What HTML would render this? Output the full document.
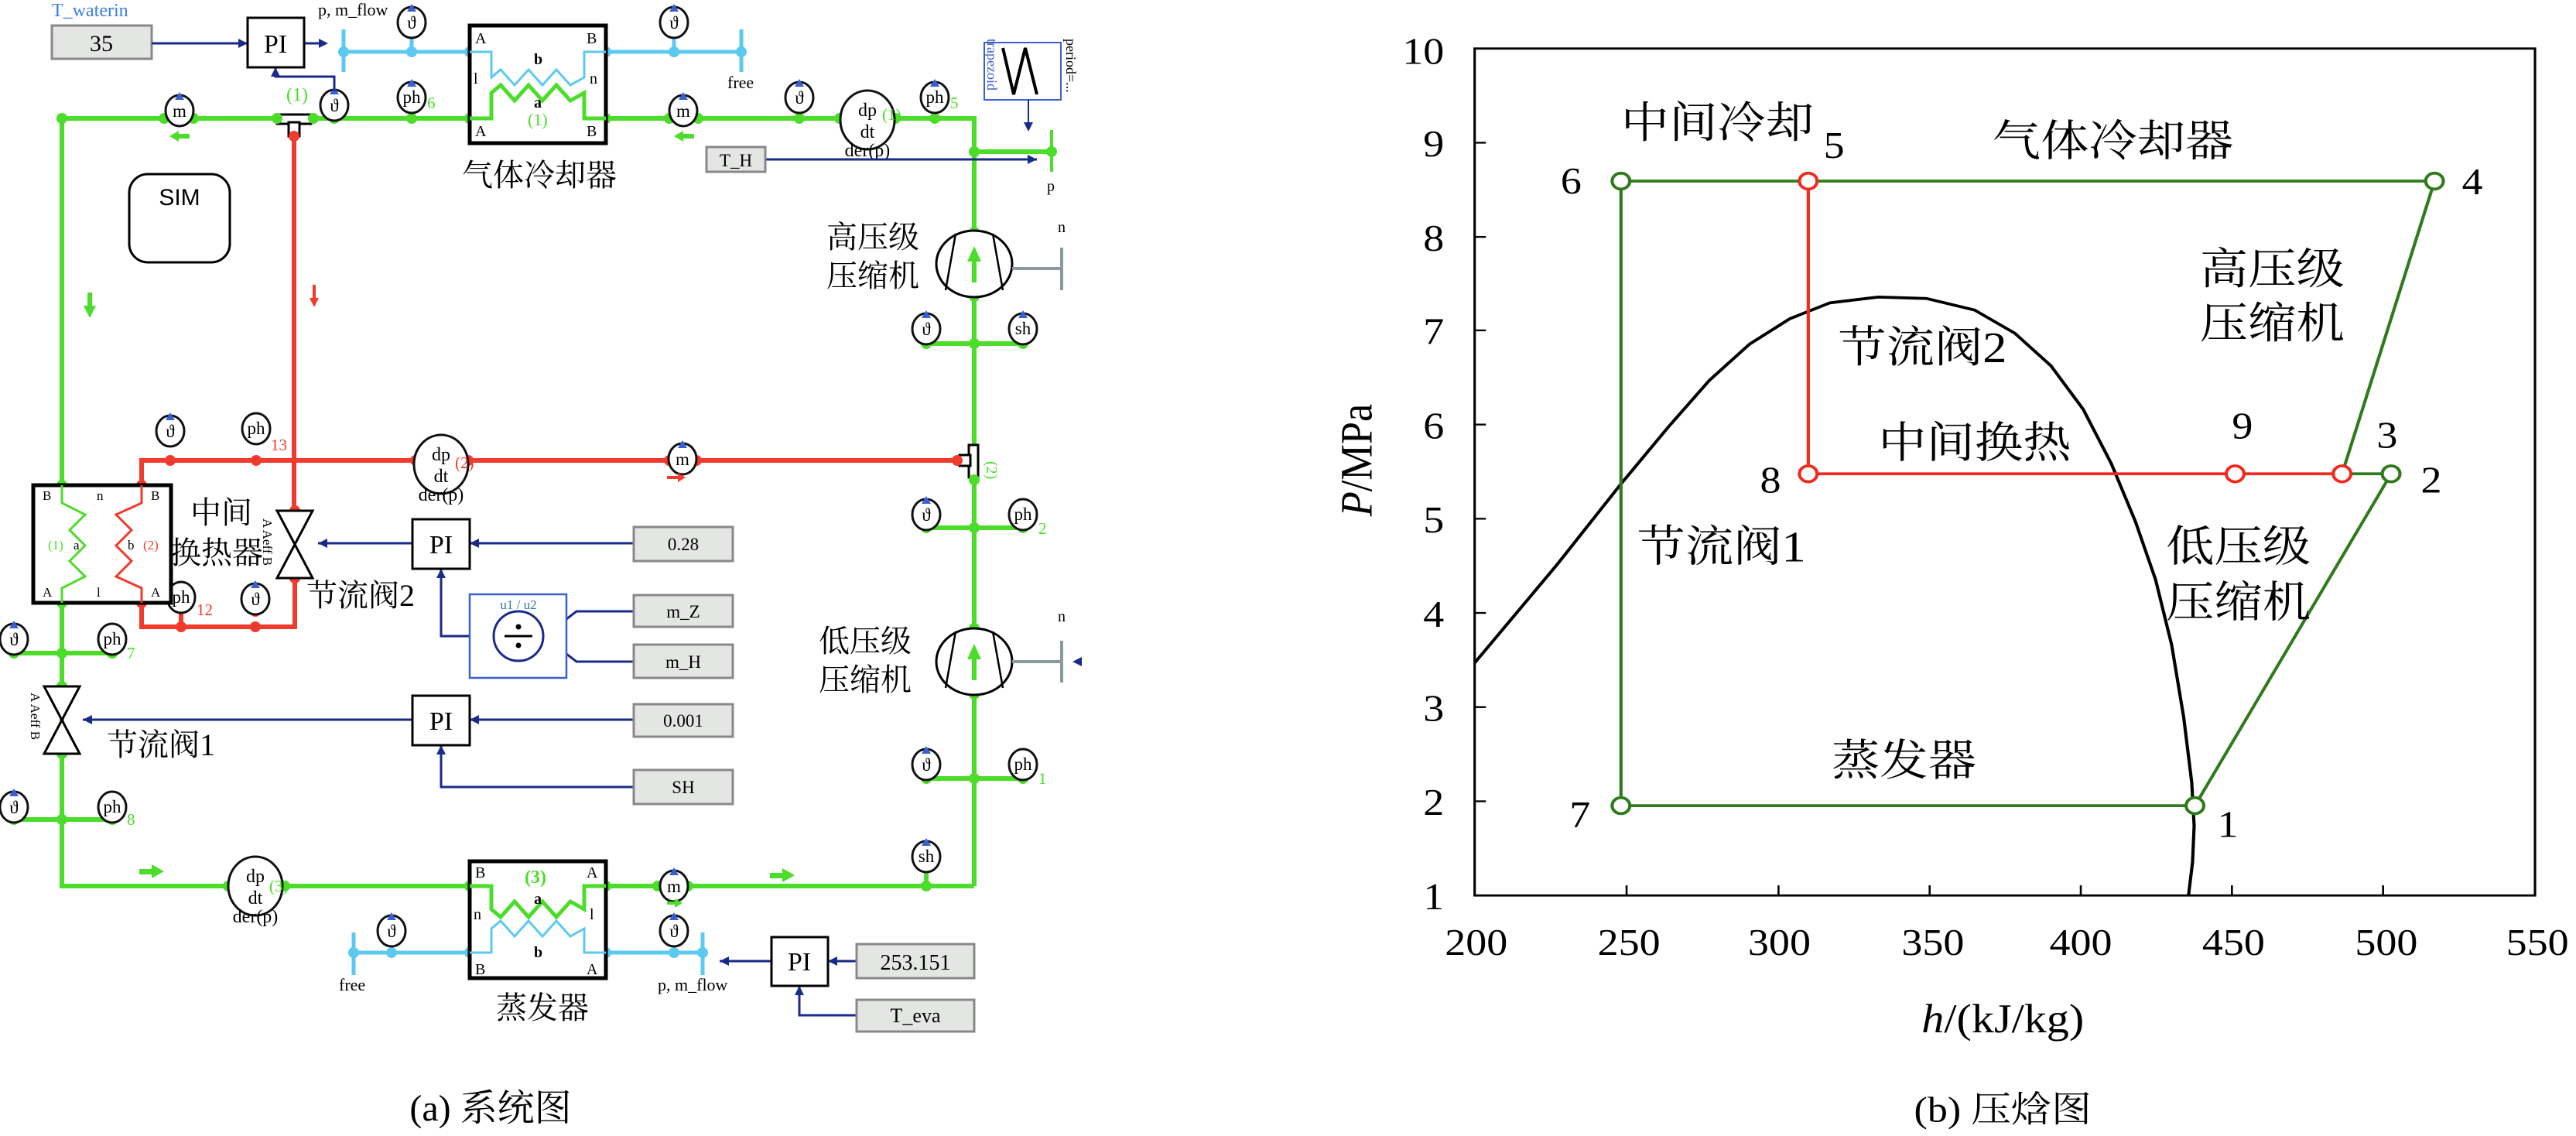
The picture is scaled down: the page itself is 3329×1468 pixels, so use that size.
<!DOCTYPE html>
<html><head><meta charset="utf-8"><style>
html,body{margin:0;padding:0;background:#fff;}
svg{display:block;}
.s{font-family:"Liberation Serif","Noto Serif CJK SC",serif;}
.c{font-family:"Liberation Serif","Noto Serif CJK SC","Noto Sans CJK SC",serif;}
</style></head><body>
<svg width="3329" height="1468" viewBox="0 0 3329 1468" xmlns="http://www.w3.org/2000/svg">
<rect width="3329" height="1468" fill="#fff"/>
<g class="s">
<g stroke="#5ccaf0" stroke-width="5" fill="none">
<line x1="444" y1="67" x2="607" y2="67"/><line x1="444" y1="38" x2="444" y2="93"/>
<line x1="783" y1="67" x2="958" y2="67"/><line x1="958" y1="38" x2="958" y2="93"/>
<line x1="532" y1="45" x2="532" y2="67"/><line x1="871" y1="45" x2="871" y2="67"/>
<line x1="457" y1="1231" x2="607" y2="1231"/><line x1="457" y1="1205" x2="457" y2="1260"/>
<line x1="783" y1="1231" x2="908" y2="1231"/><line x1="908" y1="1205" x2="908" y2="1260"/>
</g>
<g stroke="#4cdc2a" stroke-width="6" fill="none">
<polyline points="80,627 80,153 1259,153 1259,595"/>
<line x1="1259" y1="600" x2="1259" y2="1145"/>
<polyline points="80,779 80,1145 607,1145"/>
<line x1="783" y1="1145" x2="1259" y2="1145"/>
<line x1="1259" y1="196" x2="1359" y2="196"/>
<line x1="1197" y1="444" x2="1322" y2="444"/>
<line x1="1197" y1="682" x2="1322" y2="682"/>
<line x1="1197" y1="1006" x2="1322" y2="1006"/>
<line x1="18" y1="844" x2="145" y2="844"/>
<line x1="18" y1="1059" x2="145" y2="1059"/>
<line x1="1197" y1="1110" x2="1197" y2="1145"/>
</g>
<g stroke="#f23a2e" stroke-width="6" fill="none">
<line x1="380" y1="160" x2="380" y2="660"/>
<polyline points="183,627 183,595 1237,595"/>
<polyline points="183,779 183,810 381,810 381,747"/>
<line x1="234" y1="790" x2="234" y2="810"/>
</g>
<rect x="358" y="148" width="44" height="12" fill="#fff" stroke="#000" stroke-width="3"/>
<rect x="373" y="158" width="14" height="18" fill="#fff" stroke="#000" stroke-width="3"/>
<text x="370" y="130" font-size="24" fill="#4cdc2a">(1)</text>
<rect x="1252" y="575" width="12" height="42" fill="#fff" stroke="#000" stroke-width="3"/>
<rect x="1240" y="588" width="14" height="14" fill="#fff" stroke="#000" stroke-width="3"/>
<text x="1275" y="596" font-size="20" fill="#4cdc2a" transform="rotate(90 1275 596)">(2)</text>
<g fill="#4cdc2a">
<circle cx="80" cy="153" r="7"/><circle cx="212" cy="153" r="7"/><circle cx="250" cy="153" r="7"/>
<circle cx="358" cy="153" r="7"/><circle cx="405" cy="153" r="7"/><circle cx="432" cy="153" r="7"/>
<circle cx="532" cy="153" r="7"/><circle cx="607" cy="153" r="7"/><circle cx="783" cy="153" r="7"/>
<circle cx="865" cy="153" r="7"/><circle cx="902" cy="153" r="7"/><circle cx="1033" cy="153" r="7"/>
<circle cx="1085" cy="153" r="7"/><circle cx="1157" cy="153" r="7"/><circle cx="1208" cy="153" r="7"/>
<circle cx="1259" cy="196" r="7"/><circle cx="1359" cy="196" r="7"/>
<circle cx="1259" cy="300" r="7"/><circle cx="1259" cy="383" r="7"/>
<circle cx="1197" cy="444" r="7"/><circle cx="1259" cy="444" r="7"/><circle cx="1322" cy="444" r="7"/>
<circle cx="1259" cy="620" r="7"/>
<circle cx="1197" cy="682" r="7"/><circle cx="1259" cy="682" r="7"/><circle cx="1322" cy="682" r="7"/>
<circle cx="1259" cy="812" r="7"/><circle cx="1259" cy="897" r="7"/>
<circle cx="1197" cy="1006" r="7"/><circle cx="1259" cy="1006" r="7"/><circle cx="1322" cy="1006" r="7"/>
<circle cx="1197" cy="1145" r="7"/><circle cx="850" cy="1145" r="7"/><circle cx="889" cy="1145" r="7"/>
<circle cx="783" cy="1145" r="7"/><circle cx="607" cy="1145" r="7"/><circle cx="295" cy="1145" r="7"/><circle cx="368" cy="1145" r="7"/>
<circle cx="80" cy="627" r="7"/><circle cx="80" cy="779" r="7"/>
<circle cx="18" cy="844" r="7"/><circle cx="80" cy="844" r="7"/><circle cx="145" cy="844" r="7"/>
<circle cx="80" cy="887" r="7"/><circle cx="80" cy="974" r="7"/>
<circle cx="18" cy="1059" r="7"/><circle cx="80" cy="1059" r="7"/><circle cx="145" cy="1059" r="7"/>
</g>
<g fill="#f23a2e">
<circle cx="380" cy="176" r="7"/><circle cx="183" cy="627" r="7"/><circle cx="183" cy="779" r="7"/>
<circle cx="220" cy="595" r="7"/><circle cx="331" cy="595" r="7"/><circle cx="537" cy="595" r="7"/><circle cx="605" cy="595" r="7"/>
<circle cx="865" cy="595" r="7"/><circle cx="900" cy="595" r="7"/><circle cx="1237" cy="595" r="7"/>
<circle cx="381" cy="660" r="7"/><circle cx="381" cy="747" r="7"/>
<circle cx="234" cy="810" r="7"/><circle cx="330" cy="810" r="7"/><circle cx="330" cy="790" r="7"/>
</g>
<g fill="#5ccaf0">
<circle cx="444" cy="67" r="7"/><circle cx="532" cy="67" r="7"/><circle cx="607" cy="67" r="7"/>
<circle cx="783" cy="67" r="7"/><circle cx="871" cy="67" r="7"/><circle cx="958" cy="67" r="7"/>
<circle cx="457" cy="1231" r="7"/><circle cx="506" cy="1231" r="7"/><circle cx="607" cy="1231" r="7"/>
<circle cx="783" cy="1231" r="7"/><circle cx="871" cy="1231" r="7"/><circle cx="908" cy="1231" r="7"/>
</g>
<g font-size="23" text-anchor="middle" stroke-width="3">
<g fill="#fff" stroke="#111">
<ellipse cx="232" cy="143" rx="18" ry="20"/><ellipse cx="432" cy="136" rx="18" ry="20"/><ellipse cx="532" cy="126" rx="18" ry="20"/>
<ellipse cx="883" cy="143" rx="18" ry="20"/><ellipse cx="1033" cy="126" rx="18" ry="20"/><ellipse cx="1208" cy="126" rx="18" ry="20"/>
<ellipse cx="532" cy="29" rx="18" ry="20"/><ellipse cx="871" cy="29" rx="18" ry="20"/>
<ellipse cx="1121" cy="155" rx="35" ry="38"/>
<ellipse cx="1197" cy="425" rx="18" ry="20"/><ellipse cx="1322" cy="425" rx="18" ry="20"/>
<ellipse cx="1197" cy="665" rx="18" ry="20"/><ellipse cx="1322" cy="665" rx="18" ry="20"/>
<ellipse cx="1197" cy="988" rx="18" ry="20"/><ellipse cx="1322" cy="988" rx="18" ry="20"/>
<ellipse cx="1197" cy="1107" rx="18" ry="20"/>
<ellipse cx="220" cy="557" rx="18" ry="20"/><ellipse cx="331" cy="554" rx="18" ry="20"/>
<ellipse cx="570" cy="600" rx="35" ry="38"/><ellipse cx="882" cy="593" rx="18" ry="20"/>
<ellipse cx="234" cy="772" rx="18" ry="20"/><ellipse cx="330" cy="774" rx="18" ry="20"/>
<ellipse cx="18" cy="826" rx="18" ry="20"/><ellipse cx="145" cy="826" rx="18" ry="20"/>
<ellipse cx="18" cy="1043" rx="18" ry="20"/><ellipse cx="145" cy="1043" rx="18" ry="20"/>
<ellipse cx="330" cy="1145" rx="35" ry="38"/><ellipse cx="871" cy="1145" rx="18" ry="20"/>
<ellipse cx="506" cy="1203" rx="18" ry="20"/><ellipse cx="871" cy="1203" rx="18" ry="20"/>
</g>
<g fill="#000" stroke="none">
<text x="232" y="151">m</text><text x="432" y="144">ϑ</text><text x="532" y="133">ph</text>
<text x="883" y="151">m</text><text x="1033" y="134">ϑ</text><text x="1208" y="133">ph</text>
<text x="532" y="37">ϑ</text><text x="871" y="37">ϑ</text>
<text x="1197" y="433">ϑ</text><text x="1322" y="432">sh</text>
<text x="1197" y="673">ϑ</text><text x="1322" y="672">ph</text>
<text x="1197" y="996">ϑ</text><text x="1322" y="995">ph</text>
<text x="1197" y="1114">sh</text>
<text x="220" y="565">ϑ</text><text x="331" y="561">ph</text><text x="882" y="601">m</text>
<text x="234" y="779">ph</text><text x="330" y="782">ϑ</text>
<text x="18" y="834">ϑ</text><text x="145" y="833">ph</text>
<text x="18" y="1051">ϑ</text><text x="145" y="1050">ph</text>
<text x="871" y="1153">m</text><text x="506" y="1211">ϑ</text><text x="871" y="1211">ϑ</text>
<g font-size="24"><text x="1121" y="150">dp</text><text x="1121" y="178">dt</text>
<text x="570" y="595">dp</text><text x="570" y="623">dt</text>
<text x="330" y="1140">dp</text><text x="330" y="1168">dt</text>
<text x="1121" y="202">der(p)</text><text x="570" y="647">der(p)</text><text x="330" y="1192">der(p)</text></g>
</g>
<g fill="#3a5fd0" stroke="none">
<polygon points="232,119 226,129 238,129"/><polygon points="432,112 426,122 438,122"/><polygon points="532,102 526,112 538,112"/>
<polygon points="883,119 877,129 889,129"/><polygon points="1033,102 1027,112 1039,112"/><polygon points="1208,102 1202,112 1214,112"/>
<polygon points="532,5 526,15 538,15"/><polygon points="871,5 865,15 877,15"/>
<polygon points="1197,401 1191,411 1203,411"/><polygon points="1322,401 1316,411 1328,411"/>
<polygon points="1197,641 1191,651 1203,651"/><polygon points="1197,964 1191,974 1203,974"/><polygon points="1197,1083 1191,1093 1203,1093"/>
<polygon points="220,533 214,543 226,543"/><polygon points="882,569 876,579 888,579"/><polygon points="330,750 324,760 336,760"/>
<polygon points="18,802 12,812 24,812"/><polygon points="18,1019 12,1029 24,1029"/>
<polygon points="871,1121 865,1131 877,1131"/><polygon points="506,1179 500,1189 512,1189"/><polygon points="871,1179 865,1189 877,1189"/>
</g>
<g font-size="21" stroke="none" text-anchor="start">
<text x="552" y="140" fill="#4cdc2a">6</text><text x="1228" y="140" fill="#4cdc2a">5</text><text x="1140" y="155" fill="#4cdc2a">(1)</text>
<text x="350" y="582" fill="#f23a2e">13</text><text x="588" y="605" fill="#f23a2e">(2)</text>
<text x="254" y="795" fill="#f23a2e">12</text><text x="1342" y="690" fill="#4cdc2a">2</text>
<text x="1342" y="1013" fill="#4cdc2a">1</text><text x="164" y="851" fill="#4cdc2a">7</text><text x="164" y="1066" fill="#4cdc2a">8</text>
<text x="348" y="1152" fill="#4cdc2a">(3)</text>
</g>
</g>
<text x="67" y="21" font-size="24" fill="#3a7ae8">T_waterin</text>
<rect x="67" y="33" width="129" height="43" fill="#e4e6e4" stroke="#888" stroke-width="3"/>
<text x="131" y="66" font-size="30" text-anchor="middle">35</text>
<g stroke="#1a2a8a" stroke-width="3" fill="none">
<line x1="196" y1="56" x2="320" y2="56"/><line x1="393" y1="56" x2="420" y2="56"/>
<polyline points="432,118 432,99 356,99 356,87"/>
<line x1="411" y1="702" x2="533" y2="702"/><line x1="607" y1="702" x2="819" y2="702"/>
<polyline points="570,735 570,822 607,822"/>
<polyline points="732,800 745,790 819,790"/><polyline points="732,845 745,855 819,855"/>
<line x1="107" y1="930" x2="533" y2="930"/><line x1="607" y1="930" x2="819" y2="930"/>
<polyline points="570,963 570,1017 819,1017"/>
<line x1="930" y1="1242" x2="997" y2="1242"/><line x1="1070" y1="1242" x2="1107" y2="1242"/>
<polyline points="1033,1274 1033,1312 1107,1312"/>
<line x1="989" y1="206" x2="1340" y2="206"/>
</g>
<g fill="#1a2a8a"><polygon points="320,56 308,50 308,62"/><polygon points="424,56 412,50 412,62"/>
<polygon points="411,702 423,696 423,708"/><polygon points="107,930 119,924 119,936"/>
<polygon points="930,1242 942,1236 942,1248"/><polygon points="1340,206 1328,200 1328,212"/>
<polygon points="607,702 619,696 619,708"/><polygon points="607,930 619,924 619,936"/>
<polygon points="570,735 564,747 576,747"/><polygon points="570,963 564,975 576,975"/><polygon points="1033,1274 1027,1286 1039,1286"/>
<polygon points="1070,1242 1082,1236 1082,1248"/><polygon points="356,87 350,99 362,99"/></g>
<g fill="#fff" stroke="#000" stroke-width="3">
<rect x="320" y="23" width="73" height="64"/>
<rect x="533" y="671" width="74" height="64"/><rect x="533" y="899" width="74" height="64"/>
<rect x="997" y="1211" width="73" height="63"/>
</g>
<g font-size="34" text-anchor="middle">
<text x="356" y="68">PI</text><text x="570" y="715">PI</text><text x="570" y="943">PI</text><text x="1033" y="1254">PI</text>
</g>
<text x="411" y="20" font-size="22">p, m_flow</text>
<text x="940" y="114" font-size="22">free</text>
<text x="438" y="1280" font-size="22">free</text>
<text x="850" y="1280" font-size="22">p, m_flow</text>
<g fill="#e4e6e4" stroke="#888" stroke-width="3">
<rect x="819" y="681" width="128" height="44"/><rect x="819" y="769" width="128" height="41"/><rect x="819" y="833" width="128" height="43"/>
<rect x="819" y="910" width="128" height="42"/><rect x="819" y="995" width="128" height="44"/>
<rect x="1107" y="1220" width="152" height="44"/><rect x="1107" y="1292" width="152" height="41"/>
<rect x="913" y="190" width="76" height="32"/>
</g>
<g font-size="23" text-anchor="middle">
<text x="883" y="711">0.28</text><text x="883" y="798">m_Z</text><text x="883" y="863">m_H</text>
<text x="883" y="939">0.001</text><text x="883" y="1025">SH</text>
<text x="1183" y="1253" font-size="28">253.151</text><text x="1183" y="1321" font-size="26">T_eva</text>
<text x="951" y="215">T_H</text>
</g>
<rect x="607" y="768" width="125" height="108" fill="#fff" stroke="#3a5fd0" stroke-width="2.5"/>
<text x="670" y="787" font-size="17" fill="#2a7a9a" text-anchor="middle">u1 / u2</text>
<circle cx="670" cy="822" r="32" fill="#fff" stroke="#1a2a8a" stroke-width="3"/>
<line x1="652" y1="822" x2="688" y2="822" stroke="#000" stroke-width="3"/>
<circle cx="670" cy="810" r="3.5"/><circle cx="670" cy="834" r="3.5"/>
<rect x="607" y="33" width="176" height="152" fill="#fff" stroke="#000" stroke-width="5"/>
<polyline points="607,67 635,67 635,100 647,90 665,110 683,90 701,110 719,90 737,110 755,100 755,67 783,67" fill="none" stroke="#5ccaf0" stroke-width="3"/>
<polyline points="607,153 635,153 635,120 647,110 665,130 683,110 701,130 719,110 737,130 755,120 755,153 783,153" fill="none" stroke="#4cdc2a" stroke-width="5"/>
<g font-size="20"><text x="614" y="56">A</text><text x="758" y="56">B</text><text x="612" y="108">l</text><text x="762" y="108">n</text>
<text x="614" y="176">A</text><text x="758" y="176">B</text><text x="690" y="83" font-weight="bold">b</text><text x="690" y="139" font-weight="bold">a</text></g>
<text x="682" y="162" font-size="22" fill="#4cdc2a">(1)</text>
<text x="697" y="240" font-size="40" text-anchor="middle" class="c">气体冷却器</text>
<rect x="607" y="1113" width="176" height="151" fill="#fff" stroke="#000" stroke-width="5"/>
<polyline points="607,1145 635,1145 635,1175 647,1185 665,1165 683,1185 701,1165 719,1185 737,1165 755,1175 755,1145 783,1145" fill="none" stroke="#4cdc2a" stroke-width="5"/>
<polyline points="607,1231 635,1231 635,1200 647,1190 665,1210 683,1190 701,1210 719,1190 737,1210 755,1200 755,1231 783,1231" fill="none" stroke="#5ccaf0" stroke-width="3"/>
<g font-size="20"><text x="614" y="1134">B</text><text x="758" y="1134">A</text><text x="612" y="1188">n</text><text x="762" y="1188">l</text>
<text x="614" y="1259">B</text><text x="758" y="1259">A</text><text x="690" y="1168" font-weight="bold">a</text><text x="690" y="1237" font-weight="bold">b</text></g>
<text x="678" y="1141" font-size="24" fill="#4cdc2a" font-weight="bold">(3)</text>
<text x="701" y="1316" font-size="40" text-anchor="middle" class="c">蒸发器</text>
<rect x="43" y="627" width="178" height="152" fill="#fff" stroke="#000" stroke-width="5"/>
<polyline points="80,627 80,650 110,665 90,685 110,705 90,725 110,745 80,760 80,779" fill="none" stroke="#4cdc2a" stroke-width="3"/>
<polyline points="183,627 183,650 150,665 170,685 150,705 170,725 150,745 183,760 183,779" fill="none" stroke="#f23a2e" stroke-width="3"/>
<g font-size="17"><text x="55" y="646">B</text><text x="195" y="646">B</text><text x="55" y="771">A</text><text x="195" y="771">A</text>
<text x="125" y="646">n</text><text x="125" y="771">l</text><text x="95" y="710">a</text><text x="165" y="710">b</text></g>
<text x="62" y="710" font-size="17" fill="#4cdc2a">(1)</text><text x="185" y="710" font-size="17" fill="#f23a2e">(2)</text>
<g font-size="40" class="c"><text x="246" y="676">中间</text><text x="220" y="728">换热器</text>
<text x="396" y="783">节流阀2</text><text x="138" y="976">节流阀1</text></g>
<polygon points="358,660 404,660 358,747 404,747" fill="#fff" stroke="#000" stroke-width="3"/>
<text x="340" y="670" font-size="17" transform="rotate(90 340 670)">A Aeff B</text>
<polygon points="57,887 103,887 57,974 103,974" fill="#fff" stroke="#000" stroke-width="3"/>
<text x="40" y="895" font-size="17" transform="rotate(90 40 895)">A Aeff B</text>
<rect x="167" y="225" width="130" height="114" rx="24" fill="#fff" stroke="#000" stroke-width="3"/>
<text x="232" y="265" font-size="30" text-anchor="middle" font-family="Liberation Sans,sans-serif">SIM</text>
<g stroke="#000" stroke-width="3" fill="#fff">
<ellipse cx="1259" cy="341" rx="49" ry="43"/><ellipse cx="1259" cy="855" rx="49" ry="43"/>
</g>
<g stroke="#000" stroke-width="2.5" fill="none">
<line x1="1235" y1="302" x2="1222" y2="375"/><line x1="1283" y1="302" x2="1296" y2="375"/>
<line x1="1235" y1="816" x2="1222" y2="889"/><line x1="1283" y1="816" x2="1296" y2="889"/>
</g>
<g fill="#4cdc2a"><rect x="1256" y="335" width="6" height="30"/><polygon points="1259,318 1250,338 1268,338"/>
<rect x="1256" y="849" width="6" height="30"/><polygon points="1259,832 1250,852 1268,852"/></g>
<g stroke="#8a9aa0" stroke-width="4"><line x1="1308" y1="347" x2="1372" y2="347"/><line x1="1372" y1="320" x2="1372" y2="375"/>
<line x1="1308" y1="855" x2="1372" y2="855"/><line x1="1372" y1="828" x2="1372" y2="882"/></g>
<text x="1367" y="300" font-size="20">n</text><text x="1367" y="803" font-size="20">n</text>
<polygon points="1386,855 1398,849 1398,861" fill="#1a2a8a"/>
<g font-size="40" class="c"><text x="1068" y="320">高压级</text><text x="1068" y="370">压缩机</text>
<text x="1058" y="842">低压级</text><text x="1058" y="892">压缩机</text></g>
<line x1="1359" y1="168" x2="1359" y2="222" stroke="#4cdc2a" stroke-width="4"/>
<text x="1353" y="247" font-size="20">p</text>
<rect x="1272" y="55" width="99" height="74" fill="#fff" stroke="#3a5fd0" stroke-width="2"/>
<polyline points="1296,62 1310,122 1325,62 1340,122" fill="none" stroke="#000" stroke-width="4"/>
<line x1="1329" y1="129" x2="1329" y2="160" stroke="#1a2a8a" stroke-width="2"/>
<polygon points="1323,158 1335,158 1329,170" fill="#1a2a8a"/>
<text x="1276" y="50" font-size="18" fill="#3a5fd0" transform="rotate(90 1276 50)">trapezoid</text>
<text x="1378" y="50" font-size="18" transform="rotate(90 1378 50)">period=...</text>
<g fill="#4cdc2a"><polygon points="219,176 231,169 231,183"/><rect x="229" y="173" width="16" height="6"/>
<polygon points="871,176 883,169 883,183"/><rect x="881" y="173" width="16" height="6"/>
<rect x="113" y="378" width="6" height="22"/><polygon points="108,395 124,395 116,411"/>
<rect x="180" y="1123" width="18" height="7"/><polygon points="196,1117 212,1126 196,1135"/>
<rect x="995" y="1128" width="18" height="7"/><polygon points="1011,1122 1027,1131 1011,1140"/>
<rect x="862" y="1165" width="12" height="4"/><polygon points="872,1161 882,1167 872,1173"/></g>
<g fill="#f23a2e"><rect x="404" y="368" width="4" height="20"/><polygon points="400,385 412,385 406,397"/>
<rect x="862" y="615" width="16" height="4"/><polygon points="876,611 886,617 876,623"/></g>
<text x="634" y="1448" font-size="48" text-anchor="middle" class="c">(a) 系统图</text>
</g>

<svg x="1700" y="0" width="1629" height="1468" viewBox="0 0 1568 1568" preserveAspectRatio="none" class="s">
<rect x="198" y="67" width="1319" height="1169" fill="none" stroke="#000" stroke-width="3"/>
<g stroke="#000" stroke-width="2.5">
<line x1="387" y1="1236" x2="387" y2="1222"/><line x1="576" y1="1236" x2="576" y2="1222"/><line x1="764" y1="1236" x2="764" y2="1222"/>
<line x1="952" y1="1236" x2="952" y2="1222"/><line x1="1140" y1="1236" x2="1140" y2="1222"/><line x1="1328" y1="1236" x2="1328" y2="1222"/>
<line x1="198" y1="197" x2="212" y2="197"/><line x1="198" y1="327" x2="212" y2="327"/><line x1="198" y1="456" x2="212" y2="456"/>
<line x1="198" y1="586" x2="212" y2="586"/><line x1="198" y1="716" x2="212" y2="716"/><line x1="198" y1="846" x2="212" y2="846"/>
<line x1="198" y1="976" x2="212" y2="976"/><line x1="198" y1="1106" x2="212" y2="1106"/>
</g>
<g font-size="52" text-anchor="end">
<text x="160" y="88">10</text><text x="160" y="216">9</text><text x="160" y="346">8</text><text x="160" y="475">7</text>
<text x="160" y="605">6</text><text x="160" y="735">5</text><text x="160" y="865">4</text><text x="160" y="995">3</text>
<text x="160" y="1125">2</text><text x="160" y="1255">1</text>
</g>
<g font-size="52" text-anchor="middle">
<text x="200" y="1318">200</text><text x="390" y="1318">250</text><text x="577" y="1318">300</text><text x="768" y="1318">350</text>
<text x="952" y="1318">400</text><text x="1142" y="1318">450</text><text x="1332" y="1318">500</text><text x="1520" y="1318">550</text>
</g>
<text x="855" y="1425" font-size="56" text-anchor="middle"><tspan font-style="italic">h</tspan>/(kJ/kg)</text>
<text x="85" y="650" font-size="56" text-anchor="middle" transform="rotate(-90 70 650)"><tspan font-style="italic">P</tspan>/MPa</text>
<polyline points="198,915 300,780 380,668 440,588 490,525 540,475 590,440 640,418 700,410 760,412 820,428 870,460 915,505 955,565 990,640 1020,720 1045,800 1065,890 1080,990 1090,1080 1093,1140 1091,1190 1086,1236" fill="none" stroke="#000" stroke-width="4"/>
<g fill="none" stroke="#2f7a1c" stroke-width="4">
<polyline points="380,250 1392,250 1277,654"/><line x1="1277" y1="654" x2="1338" y2="654"/>
<polyline points="1338,654 1094,1112 380,1112 380,250"/>
</g>
<g fill="none" stroke="#f02a20" stroke-width="4">
<polyline points="613,250 613,654 1277,654"/>
</g>
<g fill="#fff" stroke-width="4">
<g stroke="#2f7a1c"><circle cx="380" cy="250" r="11"/><circle cx="1392" cy="250" r="11"/><circle cx="380" cy="1112" r="11"/><circle cx="1094" cy="1112" r="11"/><circle cx="1338" cy="654" r="11"/></g>
<g stroke="#f02a20"><circle cx="613" cy="250" r="11"/><circle cx="613" cy="654" r="11"/><circle cx="1144" cy="654" r="11"/><circle cx="1277" cy="654" r="11"/></g>
</g>
<g font-size="52">
<text x="305" y="267">6</text><text x="632" y="218">5</text><text x="1426" y="268">4</text><text x="1140" y="605">9</text>
<text x="1320" y="618">3</text><text x="553" y="680">8</text><text x="1375" y="680">2</text><text x="316" y="1142">7</text><text x="1122" y="1155">1</text>
</g>
<g font-size="60" class="c">
<text x="380" y="190">中间冷却</text><text x="842" y="215">气体冷却器</text>
<text x="1100" y="392">高压级</text><text x="1100" y="467">压缩机</text>
<text x="650" y="500">节流阀2</text><text x="700" y="632">中间换热</text>
<text x="400" y="775">节流阀1</text>
<text x="1058" y="775">低压级</text><text x="1058" y="852">压缩机</text>
<text x="642" y="1070">蒸发器</text>
</g>
<text x="855" y="1548" font-size="50" text-anchor="middle" class="c">(b) 压焓图</text>
</svg>
</svg>
</body></html>
